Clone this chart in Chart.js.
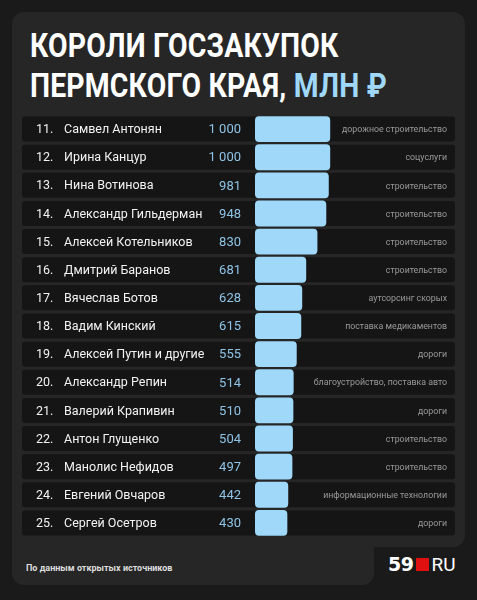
<!DOCTYPE html>
<html><head><meta charset="utf-8">
<script src="https://cdn.jsdelivr.net/npm/chart.js@4.4.0/dist/chart.umd.min.js"></script>
<style>
  body { margin:0; background:#1a1a1a; width:477px; height:600px; overflow:hidden; font-family:Roboto, sans-serif; }
  .card { position:absolute; background:#262626; }
  #title { position:absolute; left:30px; top:26px; color:#fff; font-weight:700; font-size:33px; line-height:40px;
           transform:scaleX(0.86); transform-origin:left top; white-space:nowrap; letter-spacing:0.2px; }
  #title span { color:#9fd8f9; }
  #src { position:absolute; left:26px; top:563px; color:#ddd; font-size:9px; font-weight:700; }
  #logo { position:absolute; left:388px; top:553px; color:#fff; font-size:19px; white-space:nowrap; }
  #logo b { font-family:'DejaVu Sans'; font-weight:900; letter-spacing:-0.5px; }
  #logo i { display:inline-block; width:13px; height:13px; background:#e01010; margin:0 2px 0 3px; }
  canvas { position:absolute; left:0; top:0; }
</style></head>
<body>
<div class="card" style="left:12px;top:12px;width:453px;height:535px;border-radius:12px"></div>
<div class="card" style="left:12px;top:520px;width:362px;height:65px;border-radius:0 0 12px 12px"></div>
<div id="title">КОРОЛИ ГОСЗАКУПОК<br>ПЕРМСКОГО КРАЯ, <span>МЛН ₽</span></div>
<div id="src">По данным открытых источников</div>
<div id="logo"><b>59</b><i></i>RU</div>
<div style="position:absolute;left:0;top:0;width:477px;height:600px"><canvas id="c"></canvas></div>
<script>
const ranks = [11,12,13,14,15,16,17,18,19,20,21,22,23,24,25];
const names = ['Самвел Антонян','Ирина Канцур','Нина Вотинова','Александр Гильдерман','Алексей Котельников',
  'Дмитрий Баранов','Вячеслав Ботов','Вадим Кинский','Алексей Путин и другие','Александр Репин',
  'Валерий Крапивин','Антон Глущенко','Манолис Нефидов','Евгений Овчаров','Сергей Осетров'];
const values = [1000,1000,981,948,830,681,628,615,555,514,510,504,497,442,430];
const sectors = ['дорожное строительство','соцуслуги','строительство','строительство','строительство',
  'строительство','аутсорсинг скорых','поставка медикаментов','дороги','благоустройство, поставка авто',
  'дороги','строительство','строительство','информационные технологии','дороги'];

const fmt = v => v >= 1000 ? Math.floor(v/1000) + ' ' + String(v%1000).padStart(3,'0') : String(v);

const rows = {
  id: 'rows',
  beforeDatasetsDraw(chart) {
    const ctx = chart.ctx, y = chart.scales.y;
    ctx.save();
    ctx.fillStyle = '#151515';
    names.forEach((n, i) => {
      const cy = y.getPixelForValue(i);
      ctx.beginPath();
      ctx.roundRect(22, cy - 12.5, 433, 25, 3);
      ctx.fill();
    });
    ctx.restore();
  },
  afterDatasetsDraw(chart) {
    const ctx = chart.ctx, y = chart.scales.y;
    ctx.save();
    ctx.textBaseline = 'middle';
    names.forEach((n, i) => {
      const cy = y.getPixelForValue(i) + 1;
      ctx.fillStyle = '#f2f2f2';
      ctx.font = '12.5px Roboto';
      ctx.textAlign = 'left';
      ctx.fillText(ranks[i] + '.', 36, cy);
      ctx.fillText(n, 64, cy);
      ctx.fillStyle = '#8fc3e6';
      ctx.textAlign = 'right';
      ctx.font = '13px Roboto';
      ctx.fillText(fmt(values[i]), 241, cy);
      ctx.fillStyle = '#9a9a9a';
      ctx.font = '8.8px Roboto';
      ctx.fillText(sectors[i], 447, cy);
    });
    ctx.restore();
  }
};

new Chart(document.getElementById('c'), {
  type: 'bar',
  data: {
    labels: names,
    datasets: [{
      data: values,
      backgroundColor: '#9fd8f9',
      borderRadius: 4,
      borderSkipped: false,
      barPercentage: 0.92,
      categoryPercentage: 1
    }]
  },
  options: {
    indexAxis: 'y',
    responsive: true,
    maintainAspectRatio: false,
    animation: false,
    layout: { padding: { left: 255, right: 22, top: 115, bottom: 63 } },
    plugins: { legend: { display: false }, tooltip: { enabled: false } },
    scales: {
      x: { display: false, min: 0, max: 2660 },
      y: { display: false }
    }
  },
  plugins: [rows]
});
</script>
</body></html>
